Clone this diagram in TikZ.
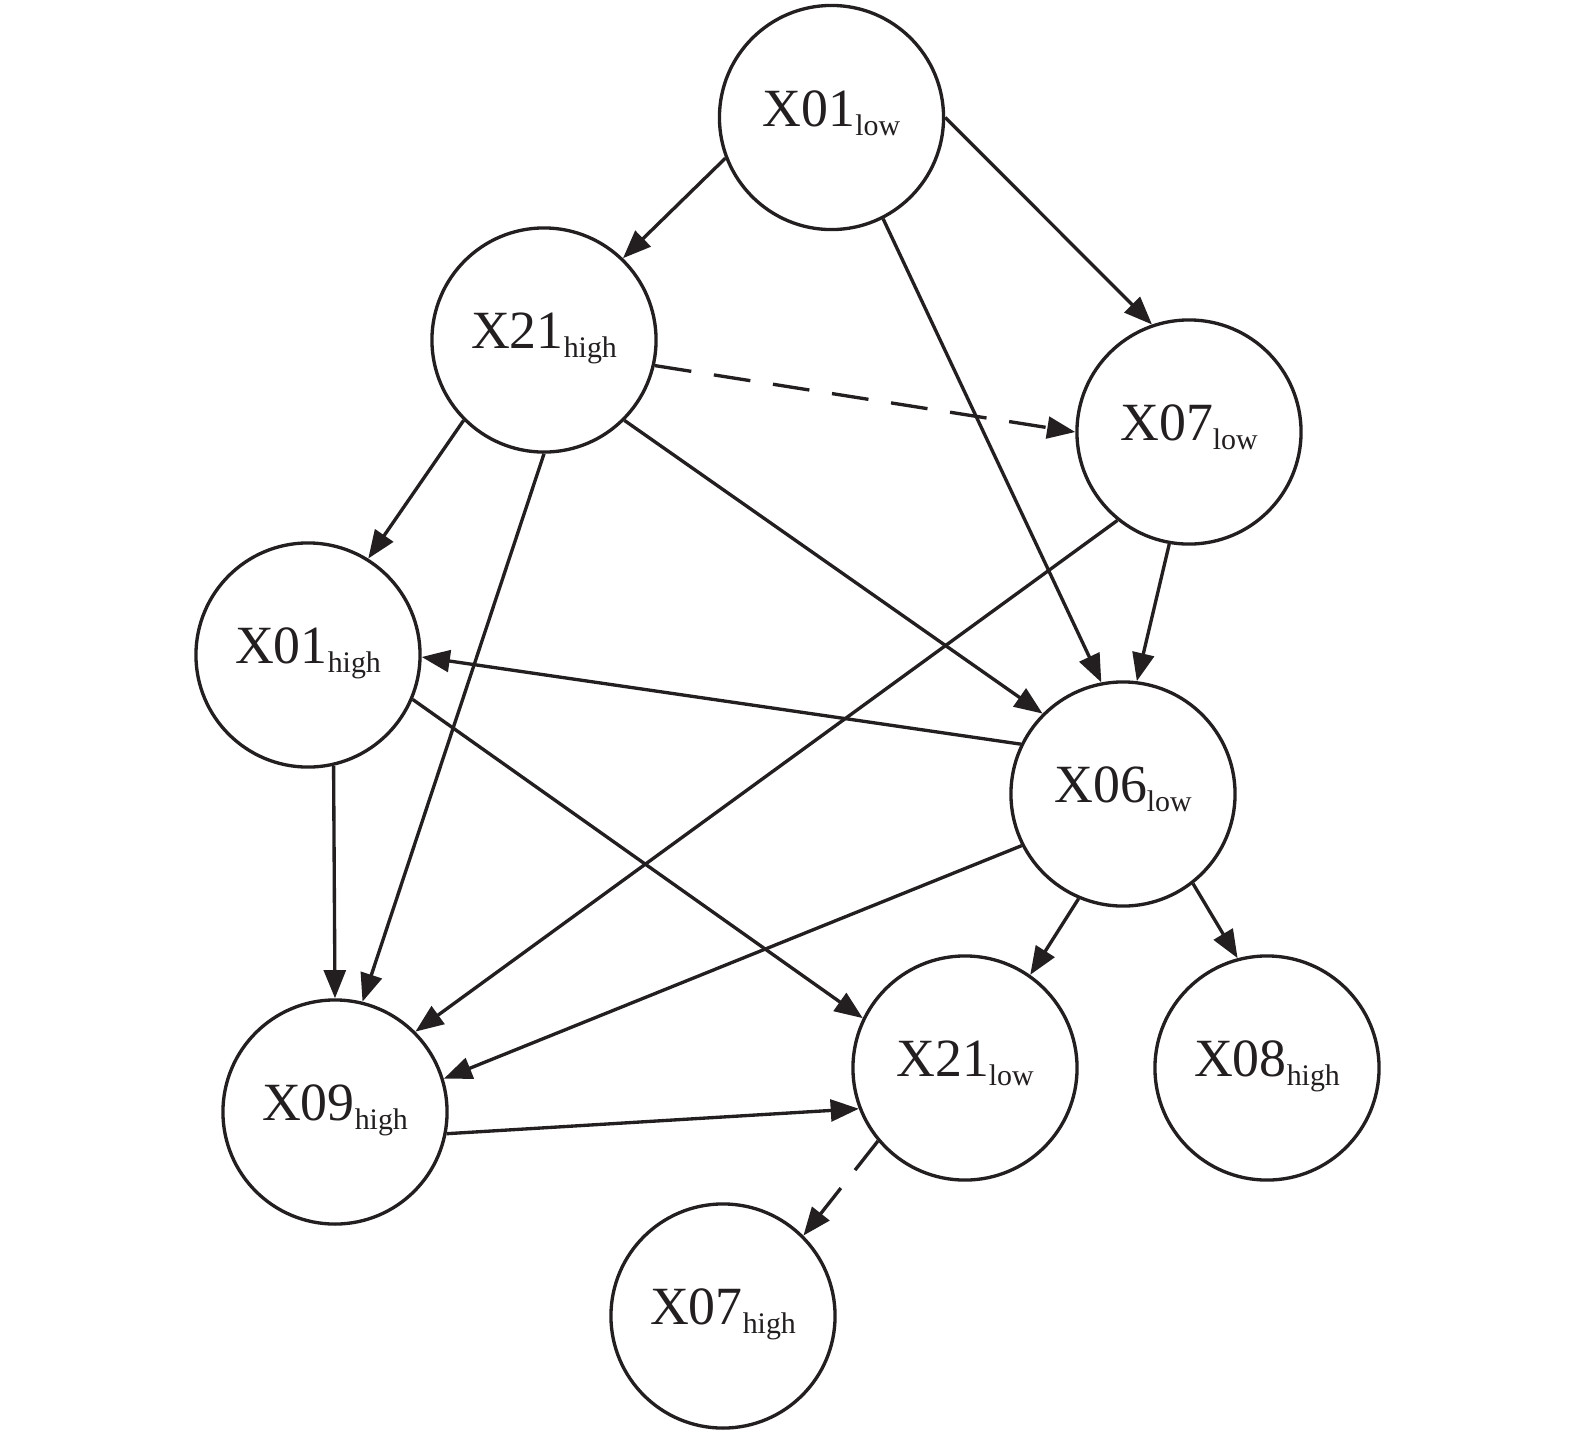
\documentclass[tikz,border=0pt]{standalone}
\usepackage{fontspec}
\setmainfont{Liberation Serif}
\usetikzlibrary{
  positioning,
  arrows.meta}
\definecolor{inkcolor}{RGB}{35,31,32}
\newcommand{\varlabel}[2]{%
  #1\raisebox{-0.09cm}{\fontsize{8.5pt}{9pt}\selectfont #2}}
\tikzset{
  %% var : a variable (state) of the network
  var/.style={
    circle,
    draw=inkcolor,
    text=inkcolor,
    line width=0.95pt,
    minimum size=2.24cm,
    inner sep=0pt,
    text height=0.36cm,
    text depth=0.19cm,
    font=\fontsize{15.3pt}{18pt}\selectfont
  },
  %% link : a dependence between two variables
  link/.style={
    inkcolor,
    line width=0.95pt,
    -{Triangle[length=8pt, width=6.2pt]}
  },
  %% weaklink : a dashed dependence
  weaklink/.style={
    link,
    dash pattern=on 10.5pt off 6.5pt
  }
}

\begin{document}
\begin{tikzpicture}
  [x=0.01cm,
  y=-0.01cm]

  \useasboundingbox (0,0) rectangle (1575,1433);

  %% Variables
  \node (x01low) [var] at (831.5,117.5) {\varlabel{X01}{low}};
  \node (x21high) [var] at (544,340) {\varlabel{X21}{high}};
  \node (x07low) [var] at (1189,432) {\varlabel{X07}{low}};
  \node (x01high) [var] at (308,655) {\varlabel{X01}{high}};
  \node (x06low) [var] at (1123,794) {\varlabel{X06}{low}};
  \node (x09high) [var] at (335,1112) {\varlabel{X09}{high}};
  \node (x21low) [var] at (965,1068) {\varlabel{X21}{low}};
  \node (x08high) [var] at (1267,1068) {\varlabel{X08}{high}};
  \node (x07high) [var] at (723,1316) {\varlabel{X07}{high}};

  %% Connections
  \draw [link] (x01low.201) -- (x21high.46);
  \draw [link] (x01low.0) -- (x07low.109);
  \draw [link] (x01low.297) -- (x06low.101);
  \draw [weaklink] (x21high.347) -- (x07low.180);
  \draw [link] (x21high.225) -- (x01high.58);
  \draw [link] (x21high.270) -- (x09high.76);
  \draw [link] (x21high.315) -- (x06low.135);
  \draw [link] (x07low.260) -- (x06low.83);
  \draw [link] (x07low.231) -- (x09high.45);
  \draw [link] (x06low.154) -- (x01high.359);
  \draw [link] (x06low.207) -- (x09high.17);
  \draw [link] (x06low.247) -- (x21low.55);
  \draw [link] (x06low.308) -- (x08high.105);
  \draw [link] (x01high.283) -- (x09high.90);
  \draw [link] (x01high.337) -- (x21low.154);
  \draw [link] (x09high.349) -- (x21low.201);
  \draw [weaklink] (x21low.220) -- (x07high.45);

\end{tikzpicture}
\end{document}
